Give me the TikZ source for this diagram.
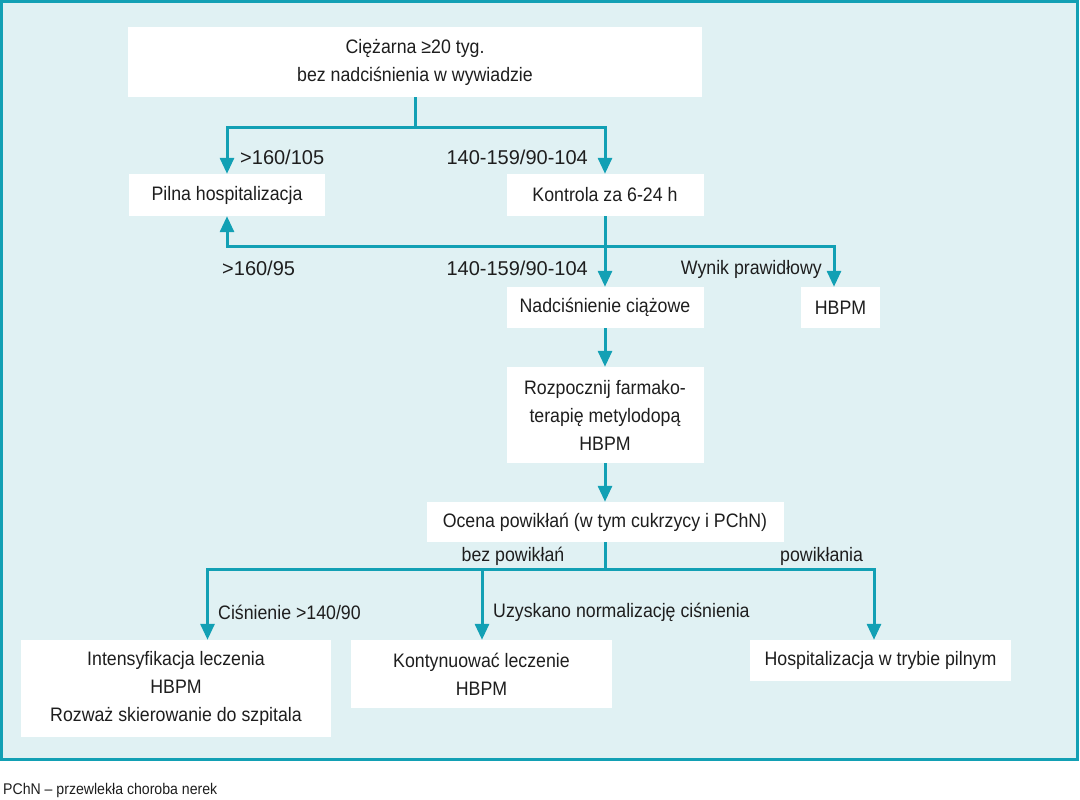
\documentclass[tikz,border=0pt]{standalone}
\usepackage{fontspec}
\setmainfont{Liberation Sans}[FakeStretch=0.91]
\newfontfamily\numfont{Liberation Sans}
\usetikzlibrary{arrows.meta}
\definecolor{tealc}{RGB}{18,160,180}
\definecolor{bgc}{RGB}{224,241,243}
\definecolor{txtc}{RGB}{30,30,30}
\begin{document}
\begin{tikzpicture}[x=1pt,y=-1pt,
  box/.style={fill=white, inner sep=0pt, align=center, text=txtc, font=\fontsize{19.5}{28}\selectfont},
  lab/.style={inner sep=0pt, text=txtc, font=\fontsize{19.5}{28}\selectfont},
  numlab/.style={inner sep=0pt, text=txtc, font=\numfont\fontsize{20}{28}\selectfont},
  ln/.style={line width=3pt, draw=tealc},
  arr/.style={line width=3pt, draw=tealc, -{Triangle[length=16pt,width=14pt]}}]
\useasboundingbox (0,0) rectangle (1080,800);
\draw[line width=3pt, draw=tealc, fill=bgc] (1.5,1.5) rectangle (1077.5,759.5);

% boxes
\node[box, minimum width=574pt, minimum height=70pt] (top) at (415,62) {Ciężarna ≥20 tyg.\\bez nadciśnienia w wywiadzie};
\node[box, minimum width=196pt, minimum height=42pt] (pilna) at (227,195) {Pilna hospitalizacja};
\node[box, minimum width=197pt, minimum height=42pt] (kontrola) at (605,195) {Kontrola za 6-24 h};
\node[box, minimum width=197pt, minimum height=41pt] (nadc) at (605,307.5) {Nadciśnienie ciążowe};
\node[box, minimum width=79pt, minimum height=41pt] (hbpm) at (840.5,307.5) {HBPM};
\node[box, minimum width=197pt, minimum height=96pt] (rozp) at (605,415) {Rozpocznij farmako-\\terapię metylodopą\\HBPM};
\node[box, minimum width=357pt, minimum height=40pt] (ocena) at (605,522) {Ocena powikłań (w tym cukrzycy i PChN)};
\node[box, minimum width=310pt, minimum height=97pt] (inten) at (176,688.5) {Intensyfikacja leczenia\\HBPM\\Rozważ skierowanie do szpitala};
\node[box, minimum width=261pt, minimum height=68pt] (kont) at (481.5,674) {Kontynuować leczenie\\HBPM};
\node[box, minimum width=261pt, minimum height=41pt] (hosp) at (880.5,660.5) {Hospitalizacja w trybie pilnym};

% junctions
\coordinate (j1) at (415,127);
\coordinate (j2) at (605,246);
\coordinate (j3) at (605,569);

% connectors
\draw[ln] (top.south) -- (j1);
\draw[arr] (j1) -| (pilna.north);
\draw[arr] (j1) -| (kontrola.north);
\draw[arr] (kontrola.south) -- (nadc.north);
\draw[arr] (j2) -| (pilna.south);
\draw[arr] (j2) -| ([xshift=-6.5pt]hbpm.north);
\draw[arr] (nadc.south) -- (rozp.north);
\draw[arr] (rozp.south) -- (ocena.north);
\draw[ln] (ocena.south) -- (j3);
\draw[arr] (j3) -| ([xshift=31.5pt]inten.north);
\draw[arr] (j3) -| ([xshift=0.5pt]kont.north);
\draw[arr] (j3) -| ([xshift=-6.5pt]hosp.north);

% labels
\node[numlab, anchor=west] (l1) at (240,157) {>160/105};
\node[numlab, anchor=east] (l2) at (588,157) {140-159/90-104};
\node[numlab, anchor=west] (l3) at (222,268) {>160/95};
\node[numlab, anchor=east] (l4) at (588,268) {140-159/90-104};
\node[lab, anchor=east] (l5) at (822,269) {Wynik prawidłowy};
\node[lab] (l6) at (513,556) {bez powikłań};
\node[lab, anchor=west] (l7) at (780,556) {powikłania};
\node[lab, anchor=west] (l8) at (218,612) {Ciśnienie >140/90};
\node[lab, anchor=west] (l9) at (493,612) {Uzyskano normalizację ciśnienia};
\node[inner sep=0pt, anchor=west, text=txtc, font=\fontsize{15.5}{18}\selectfont] (foot) at (3,790) {PChN – przewlekła choroba nerek};
\end{tikzpicture}
\end{document}
